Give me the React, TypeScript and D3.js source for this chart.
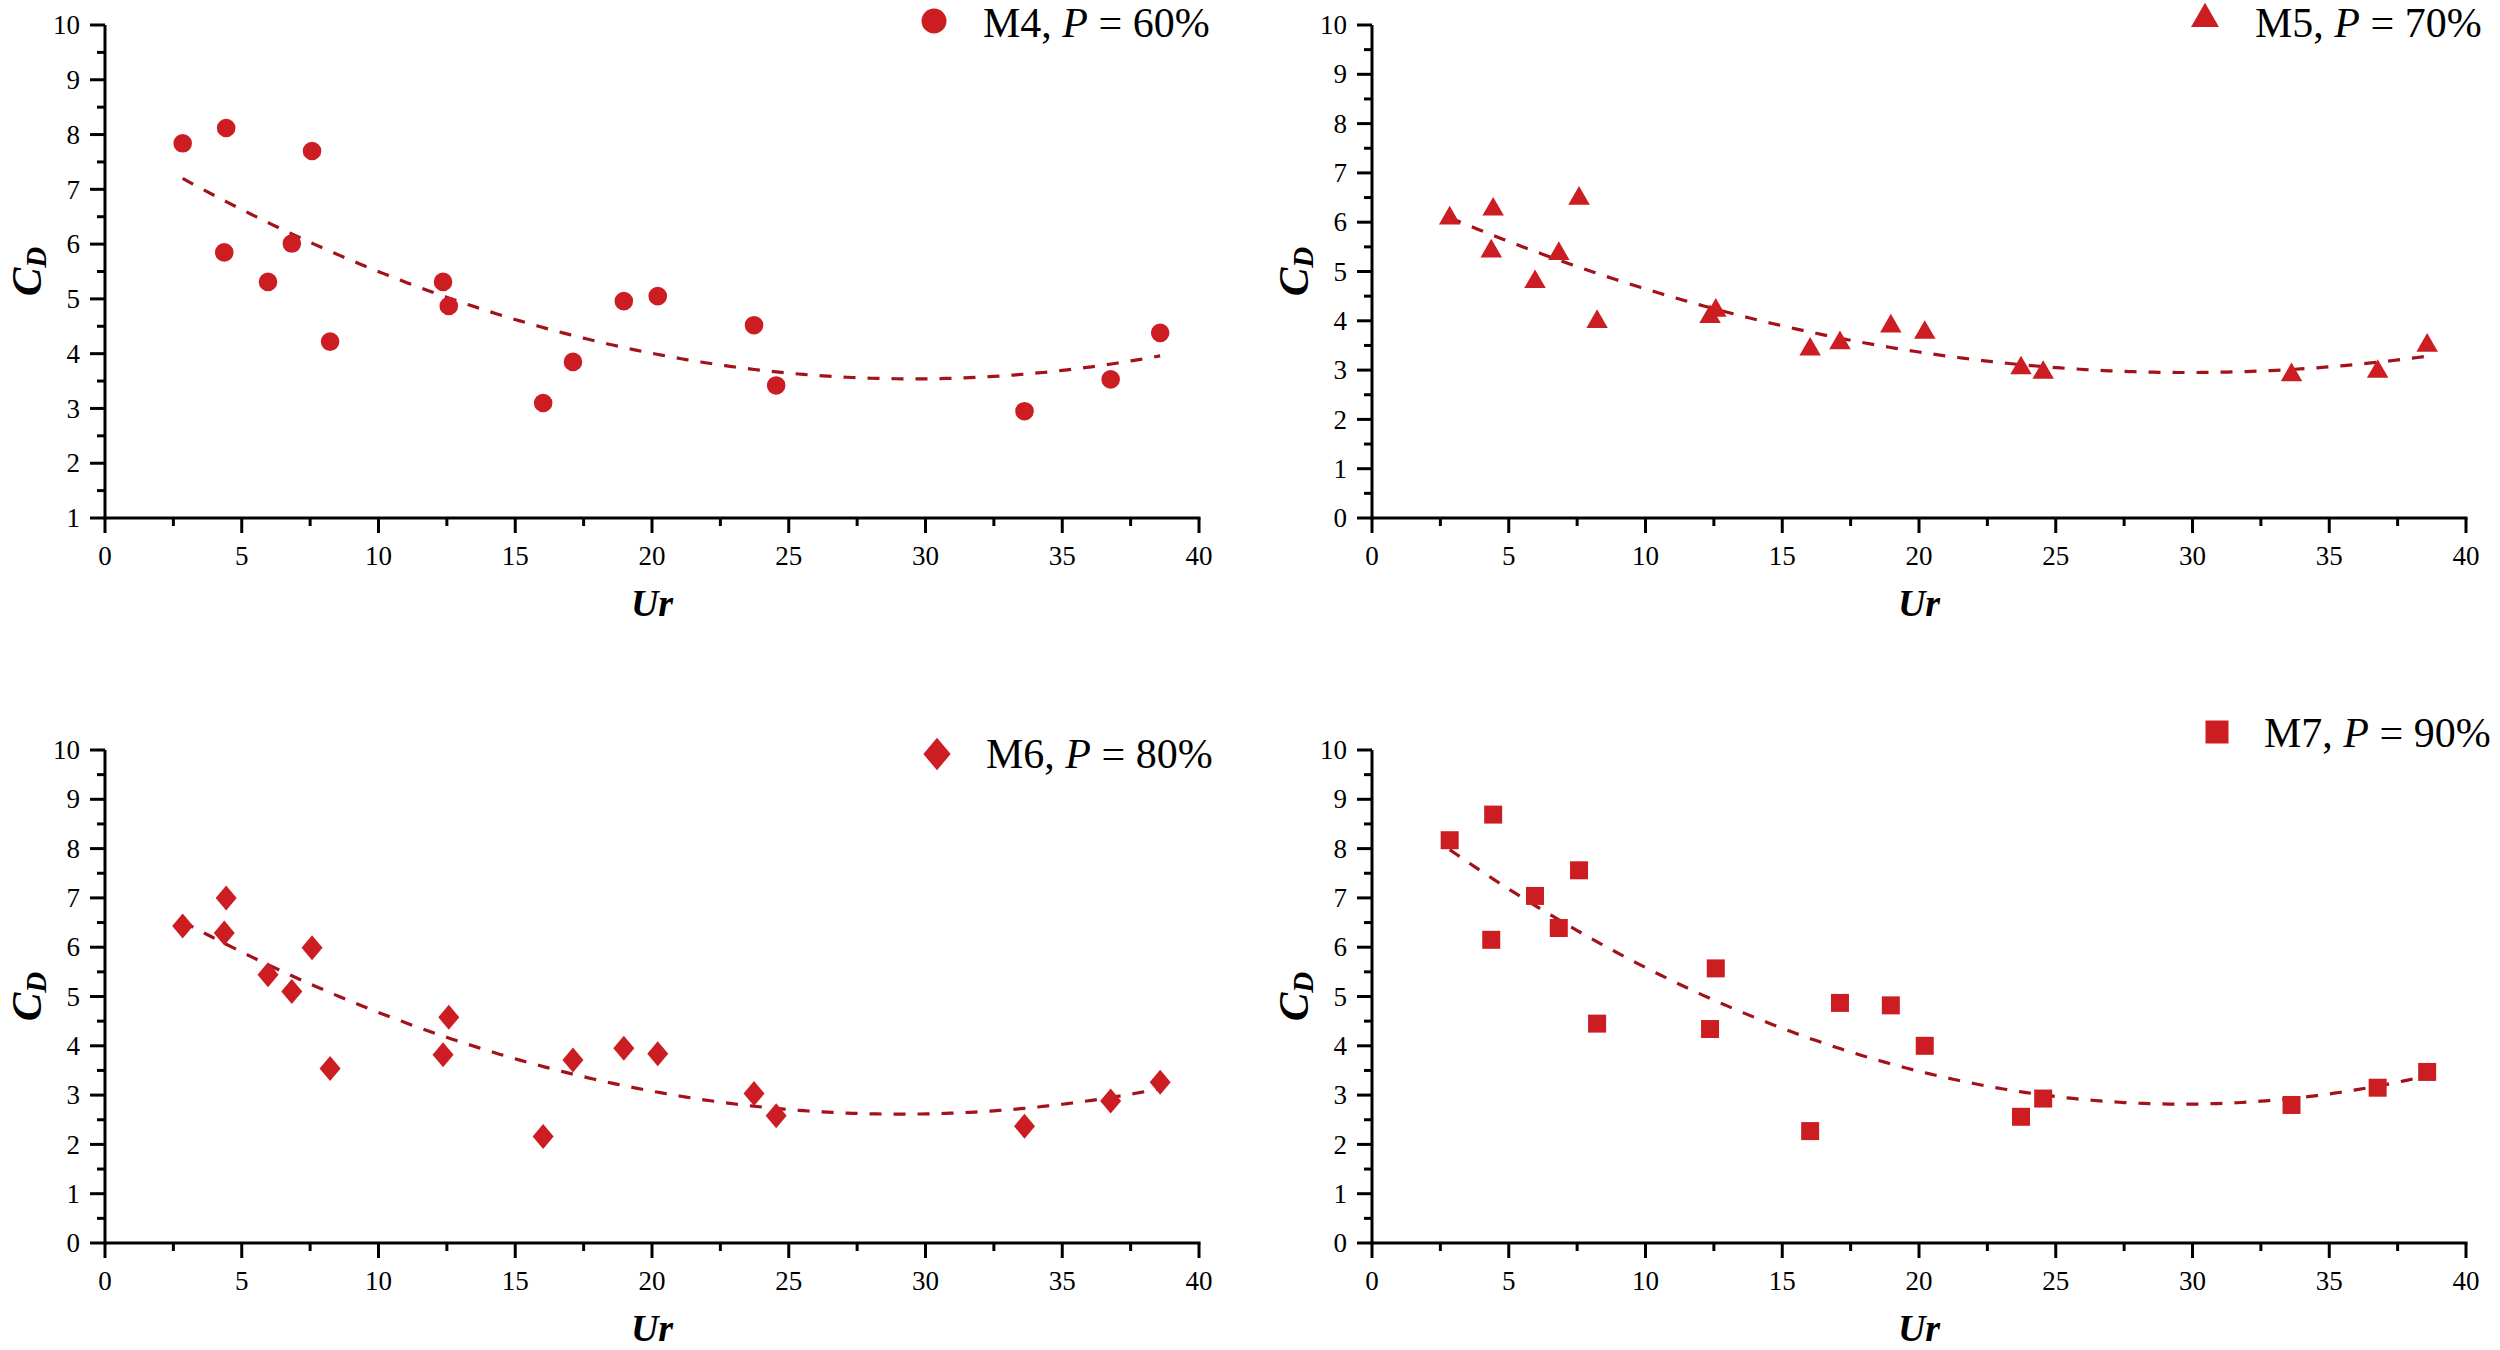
import React, { useEffect } from "react";
import * as d3 from "d3";

// ---- data ----
const UR = [2.84, 4.43, 4.36, 5.96, 6.83, 7.57, 8.23, 12.36, 12.57, 16.02, 17.11, 18.97, 20.21, 23.73, 24.54, 33.62, 36.77, 38.58];
const CD_M4 = [7.84, 8.12, 5.85, 5.31, 6.01, 7.70, 4.22, 5.31, 4.87, 3.10, 3.85, 4.96, 5.05, 4.52, 3.42, 2.95, 3.53, 4.38];
const CD_M5 = [6.08, 6.26, 5.41, 4.79, 5.36, 6.48, 3.98, 4.08, 4.21, 3.42, 3.55, 3.89, 3.76, 3.04, 2.95, 2.90, 2.97, 3.50];
const CD_M6 = [6.43, 7.00, 6.29, 5.44, 5.10, 5.99, 3.54, 3.82, 4.58, 2.16, 3.71, 3.95, 3.84, 3.03, 2.58, 2.37, 2.88, 3.26];
const CD_M7 = [8.17, 8.69, 6.15, 7.04, 6.39, 7.56, 4.45, 4.34, 5.57, 2.27, 4.87, 4.82, 4.00, 2.56, 2.93, 2.80, 3.15, 3.47];
const SERIES_NAMES = ["M4", "M5", "M6", "M7"];
const SERIES_P = ["60%", "70%", "80%", "90%"];
const X_TICKS = [0, 5, 10, 15, 20, 25, 30, 35, 40];
const Y_TICKS_A = [1, 2, 3, 4, 5, 6, 7, 8, 9, 10];
const Y_TICKS_B = [0, 1, 2, 3, 4, 5, 6, 7, 8, 9, 10];

// ---- layout / style ----
const W = 2500;
const H = 1350;
const PW = 1094;
const PH = 493;
const RED = "#cc1d23";
const LINE = "#a3121a";
const FONT = "'Liberation Serif', 'Times New Roman', serif";

type Shape = "circle" | "triangle" | "diamond" | "square";
const PANELS: {
  left: number; top: number; values: number[]; shape: Shape; yDomain: [number, number]; yTicks: number[];
  legMx: number; legMy: number; legTx: number; legTy: number;
}[] = [
  { left: 105, top: 25, values: CD_M4, shape: "circle", yDomain: [1, 10], yTicks: Y_TICKS_A, legMx: 934, legMy: 21, legTx: 983, legTy: 37 },
  { left: 1372, top: 25, values: CD_M5, shape: "triangle", yDomain: [0, 10], yTicks: Y_TICKS_B, legMx: 2205, legMy: 19, legTx: 2255, legTy: 37 },
  { left: 105, top: 750, values: CD_M6, shape: "diamond", yDomain: [0, 10], yTicks: Y_TICKS_B, legMx: 937, legMy: 754, legTx: 986, legTy: 768 },
  { left: 1372, top: 750, values: CD_M7, shape: "square", yDomain: [0, 10], yTicks: Y_TICKS_B, legMx: 2217, legMy: 732, legTx: 2264, legTy: 747 },
];

function markerPath(shape: Shape, big: boolean): string {
  const k = big ? 1.3 : 1;
  if (shape === "circle") {
    const r = big ? 12.5 : 9.3;
    return d3.symbol(d3.symbolCircle, Math.PI * r * r)() as string;
  }
  if (shape === "triangle") {
    const s = 21.5 * k;
    return d3.symbol(d3.symbolTriangle, (Math.sqrt(3) / 4) * s * s)() as string;
  }
  if (shape === "diamond") {
    const w = 21 * k, h = 25 * k;
    return `M0,${-h / 2}L${w / 2},0L0,${h / 2}L${-w / 2},0Z`;
  }
  const s = big ? 23 : 18;
  return `M${-s / 2},${-s / 2}h${s}v${s}h${-s}Z`;
}

// quadratic least-squares fit of the plotted points
function quadFit(xs: number[], ys: number[]): [number, number, number] {
  let s0 = 0, s1 = 0, s2 = 0, s3 = 0, s4 = 0, t0 = 0, t1 = 0, t2 = 0;
  xs.forEach((x, i) => {
    const y = ys[i];
    s0 += 1; s1 += x; s2 += x * x; s3 += x * x * x; s4 += x * x * x * x;
    t0 += y; t1 += x * y; t2 += x * x * y;
  });
  const M = [
    [s0, s1, s2, t0],
    [s1, s2, s3, t1],
    [s2, s3, s4, t2],
  ];
  for (let i = 0; i < 3; i++) {
    for (let j = i + 1; j < 3; j++) {
      const f = M[j][i] / M[i][i];
      for (let k = i; k < 4; k++) M[j][k] -= f * M[i][k];
    }
  }
  const c = [0, 0, 0];
  for (let i = 2; i >= 0; i--) {
    let s = M[i][3];
    for (let k = i + 1; k < 3; k++) s -= M[i][k] * c[k];
    c[i] = s / M[i][i];
  }
  return [c[0], c[1], c[2]];
}

function Panel({ idx }: { idx: number }) {
  const p = PANELS[idx];
  const x = d3.scaleLinear().domain([0, 40]).range([p.left, p.left + PW]);
  const y = d3.scaleLinear().domain(p.yDomain).range([p.top + PH, p.top]);
  const x0 = p.left;
  const y0 = p.top + PH;
  const [a, b, c] = quadFit(UR, p.values);
  const xmin = d3.min(UR) as number;
  const xmax = d3.max(UR) as number;
  const samples = d3.range(0, 201).map((i) => xmin + ((xmax - xmin) * i) / 200);
  const line = d3
    .line<number>()
    .x((u) => x(u))
    .y((u) => y(a + b * u + c * u * u));
  const xMinor = d3.range(2.5, 40, 5);
  const yMinor = d3.range(p.yDomain[0] + 0.5, p.yDomain[1], 1);
  const sw = 3;
  return (
    <g>
      {/* fit line */}
      <path d={line(samples) as string} fill="none" stroke={LINE} strokeWidth={3.2} strokeDasharray="12 12" />
      {/* points */}
      {UR.map((u, i) => (
        <path key={i} d={markerPath(p.shape, false)} transform={`translate(${x(u)},${y(p.values[i])})`} fill={RED} />
      ))}
      {/* axes */}
      <line x1={x0} x2={x0} y1={p.top} y2={y0 + sw / 2} stroke="#000" strokeWidth={sw} />
      <line x1={x0 - sw / 2} x2={p.left + PW + sw / 2} y1={y0} y2={y0} stroke="#000" strokeWidth={sw} />
      {X_TICKS.map((t) => (
        <g key={"xt" + t}>
          <line x1={x(t)} x2={x(t)} y1={y0} y2={y0 + 15} stroke="#000" strokeWidth={sw} />
          <text x={x(t)} y={y0 + 47} textAnchor="middle" fontFamily={FONT} fontSize={27}>
            {t}
          </text>
        </g>
      ))}
      {xMinor.map((t) => (
        <line key={"xm" + t} x1={x(t)} x2={x(t)} y1={y0} y2={y0 + 8} stroke="#000" strokeWidth={sw} />
      ))}
      {p.yTicks.map((t) => (
        <g key={"yt" + t}>
          <line x1={x0} x2={x0 - 15} y1={y(t)} y2={y(t)} stroke="#000" strokeWidth={sw} />
          <text x={x0 - 25} y={y(t)} dy="0.34em" textAnchor="end" fontFamily={FONT} fontSize={27}>
            {t}
          </text>
        </g>
      ))}
      {yMinor.map((t) => (
        <line key={"ym" + t} x1={x0} x2={x0 - 8} y1={y(t)} y2={y(t)} stroke="#000" strokeWidth={sw} />
      ))}
      {/* axis titles */}
      <text x={p.left + PW / 2} y={y0 + 98} textAnchor="middle" fontFamily={FONT} fontSize={38} fontWeight="bold" fontStyle="italic">
        Ur
      </text>
      <text
        transform={`translate(${x0 - 64},${p.top + PH / 2}) rotate(-90)`}
        textAnchor="middle"
        fontFamily={FONT}
        fontWeight="bold"
        fontStyle="italic"
        fontSize={43}
      >
        C<tspan fontSize={29} dy={5}>D</tspan>
      </text>
      {/* legend */}
      <path d={markerPath(p.shape, true)} transform={`translate(${p.legMx},${p.legMy})`} fill={RED} />
      <text x={p.legTx} y={p.legTy} fontFamily={FONT} fontSize={42}>
        {SERIES_NAMES[idx]}, <tspan fontStyle="italic">P</tspan> = {SERIES_P[idx]}
      </text>
    </g>
  );
}

export default function App() {
  useEffect(() => {
    document.body.style.margin = "0";
  }, []);
  return (
    <svg width={W} height={H} viewBox={`0 0 ${W} ${H}`} style={{ display: "block", background: "#fff" }}>
      <rect x={0} y={0} width={W} height={H} fill="#fff" />
      {PANELS.map((_, i) => (
        <Panel key={i} idx={i} />
      ))}
    </svg>
  );
}
